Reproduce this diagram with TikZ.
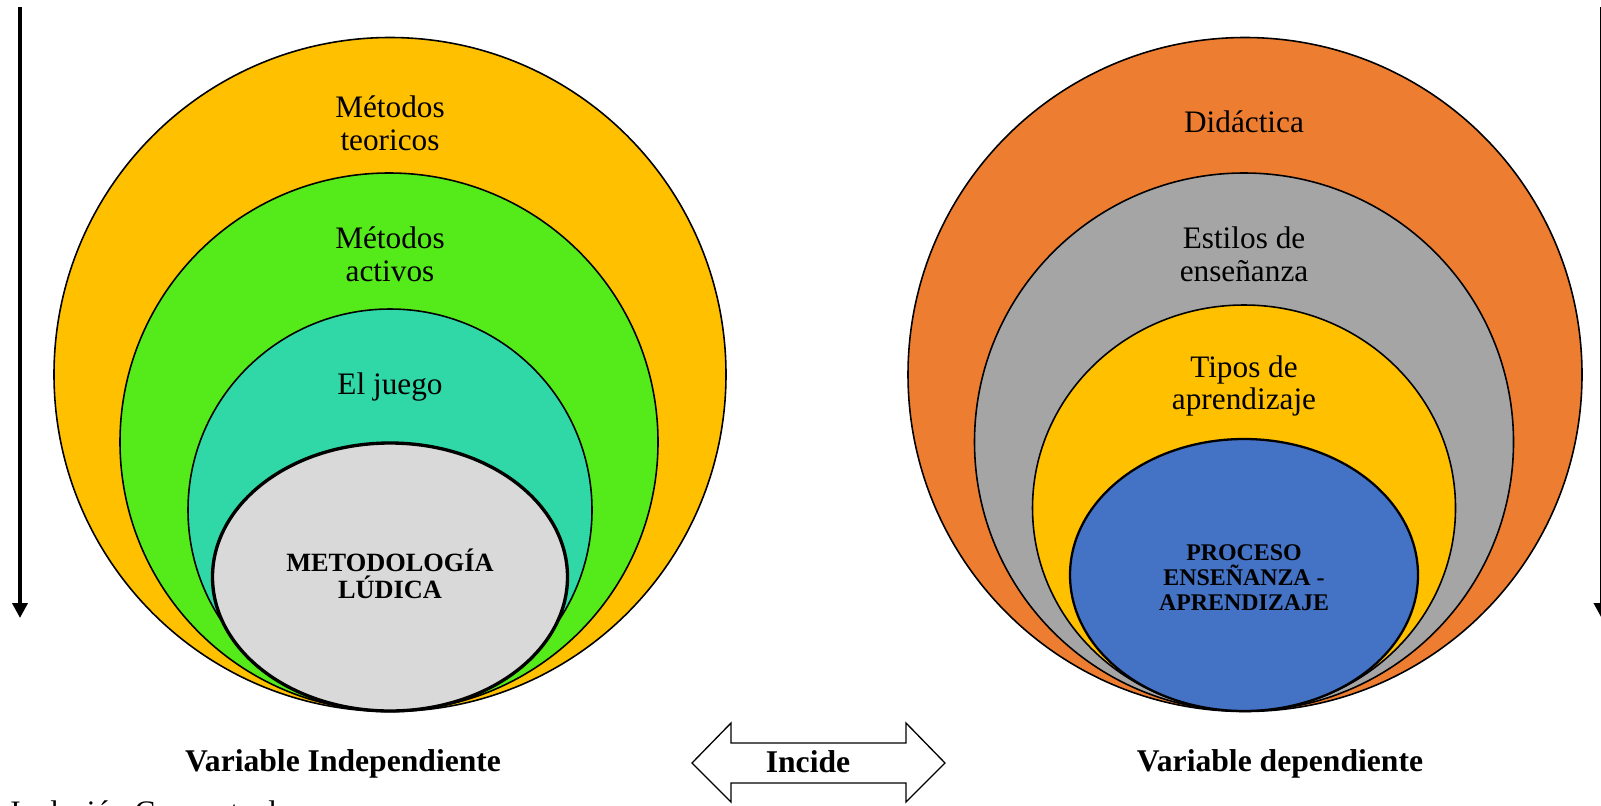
\documentclass[tikz,border=0pt]{standalone}
\usepackage{fontspec}
\setmainfont{Liberation Serif}
\usetikzlibrary{arrows.meta}

\definecolor{amarillo}{HTML}{FFC000}
\definecolor{verde}{HTML}{55EB1A}
\definecolor{turquesa}{HTML}{2FD8A6}
\definecolor{grisclaro}{HTML}{D9D9D9}
\definecolor{naranja}{HTML}{ED7D31}
\definecolor{gris}{HTML}{A5A5A5}
\definecolor{azul}{HTML}{4472C4}

\begin{document}
\begin{tikzpicture}[x=0.02cm, y=-0.02cm,
  capa/.style={align=center, font=\fontsize{17.8}{18.7}\selectfont},
  nucleo/.style={align=center, font=\bfseries\fontsize{15}{15.1}\selectfont},
  titulo/.style={font=\bfseries\fontsize{18}{20}\selectfont},
  flecha/.style={-{Triangle[length=8.5pt, width=8.5pt]}, line width=2.2pt}]
    \useasboundingbox (0,0) rectangle (1601,805);
    % circulos: variable independiente y dependiente
    \foreach \cx/\cy/\rx/\ry/\col/\lw in {
        390/374.5/336/337/amarillo/0.9pt, 389/442/269/269/verde/0.9pt,
        390/510/202/201/turquesa/0.9pt, 390/577/177.5/134/grisclaro/1.9pt,
        1245/374.5/337/337/naranja/0.9pt, 1244/442/269.5/269/gris/0.9pt,
        1244/508/211.5/203/amarillo/0.9pt, 1244/575/174/136/azul/1.3pt}{
        \filldraw[fill=\col, line width=\lw] (\cx,\cy) ellipse [x radius=\rx, y radius=\ry];
    };
    \node[capa] (mteo) at (390,123) {Métodos\\teoricos};
    \node[capa] (mact) at (390,254) {Métodos\\activos};
    \node[capa, anchor=base] (juego) at (390,394) {El juego};
    \node[nucleo] (ludica) at (390,574) {METODOLOGÍA\\LÚDICA};
    \node[capa, anchor=base] (didac) at (1244,132) {Didáctica};
    \node[capa] (estilos) at (1244,254) {Estilos de\\enseñanza};
    \node[capa] (tipos) at (1244,386) {Tipos de\\aprendizaje};
    \node[nucleo, font=\bfseries\fontsize{13.6}{14.2}\selectfont] (proceso) at (1244,578)
        {PROCESO\\ENSEÑANZA -\\APRENDIZAJE};
    % flechas laterales
    \coordinate (izqA) at (20,7);
    \coordinate (izqB) at (20,618);
    \coordinate (derA) at (1601.5,7);
    \coordinate (derB) at (1601.5,618);
    \draw[flecha] (izqA) -- (izqB);
    \draw[flecha] (derA) -- (derB);
    % flecha doble
    \draw[line width=0.75pt] (692,763) -- (731,723) -- (731,743) -- (906,743) -- (906,723)
        -- (945,763) -- (906,802) -- (906,783) -- (731,783) -- (731,802) -- cycle;
    \node[titulo, anchor=base] (incide) at (808,772) {Incide};
    \node[titulo, anchor=base] (vind) at (343,771) {Variable Independiente};
    \node[titulo, anchor=base] (vdep) at (1280,771) {Variable dependiente};
    \node[capa, anchor=base west, inner sep=0pt] (nota) at (10,822) {Inclusión Conceptual};
\end{tikzpicture}
\end{document}
